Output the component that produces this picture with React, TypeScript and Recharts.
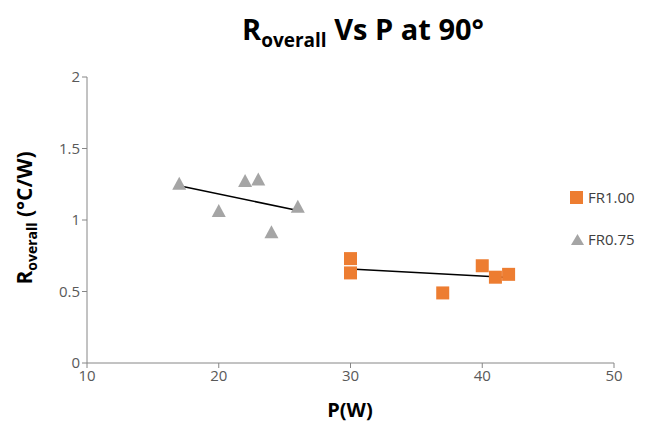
import { ScatterChart, Scatter, XAxis, YAxis, ReferenceLine } from "recharts";

const fr100 = [
  { p: 30, r: 0.73 },
  { p: 30, r: 0.63 },
  { p: 37, r: 0.49 },
  { p: 40, r: 0.68 },
  { p: 41, r: 0.6 },
  { p: 42, r: 0.62 },
];

const fr075 = [
  { p: 17, r: 1.25 },
  { p: 20, r: 1.06 },
  { p: 22, r: 1.27 },
  { p: 23, r: 1.28 },
  { p: 24, r: 0.91 },
  { p: 26, r: 1.09 },
];

// trend line ends
const trend100 = [
  { x: 30, y: 0.658 },
  { x: 42, y: 0.598 },
];
const trend075 = [
  { x: 17, y: 1.24 },
  { x: 26, y: 1.066 },
];

const xTicks = [10, 20, 30, 40, 50];
const yTicks = [0, 0.5, 1, 1.5, 2];

const ORANGE = "#ED7D31";
const GREY = "#A5A5A5";
const AXIS = "#868686";
const INK = "#595959";
const FONT = "'Open Sans', 'Noto Sans', sans-serif";

const SquareDot = (props: any) => {
  const { cx, cy } = props;
  return <rect x={cx - 6.5} y={cy - 6.5} width={13} height={13} fill={ORANGE} />;
};

const TriangleDot = (props: any) => {
  const { cx, cy } = props;
  return <path d={`M${cx},${cy - 7.5} L${cx + 7},${cy + 5.5} L${cx - 7},${cy + 5.5} Z`} fill={GREY} />;
};

export default function App() {
  return (
    <div style={{ position: "absolute", left: 0, top: 0, width: 649, height: 446, background: "#fff" }}>
      <ScatterChart width={649} height={446} margin={{ top: 77, right: 35, bottom: 53, left: 47 }}>
        <XAxis
          type="number"
          dataKey="p"
          domain={[10, 50]}
          ticks={xTicks}
          stroke={AXIS}
          tickSize={5}
          tick={{ fill: INK, fontSize: 15, fontFamily: FONT }}
        />
        <YAxis
          type="number"
          dataKey="r"
          domain={[0, 2]}
          ticks={yTicks}
          width={40}
          stroke={AXIS}
          tickSize={5}
          tick={{ fill: INK, fontSize: 15, fontFamily: FONT }}
        />
        <Scatter data={fr100} fill={ORANGE} shape={SquareDot} isAnimationActive={false} />
        <Scatter data={fr075} fill={GREY} shape={TriangleDot} isAnimationActive={false} />
        <ReferenceLine segment={trend100} stroke="#000" strokeWidth={1.5} ifOverflow="visible" />
        <ReferenceLine segment={trend075} stroke="#000" strokeWidth={1.5} ifOverflow="visible" />

        <text x={363} y={40} textAnchor="middle" fontFamily={FONT} fontWeight="bold" fontSize={29} fill="#000">
          R<tspan fontSize={19} dy={7}>overall</tspan>
          <tspan dy={-7}> Vs P at 90°</tspan>
        </text>
        <text
          x={0}
          y={0}
          transform="translate(32,218) rotate(-90)"
          textAnchor="middle"
          fontFamily={FONT}
          fontWeight="bold"
          fontSize={21}
          fill="#000"
        >
          R<tspan fontSize={14} dy={5}>overall</tspan>
          <tspan dy={-5}> (°C/W)</tspan>
        </text>
        <text x={350} y={417} textAnchor="middle" fontFamily={FONT} fontWeight="bold" fontSize={20} fill="#000">
          P(W)
        </text>

        <g fontFamily={FONT} fontSize={15} fill="#404040">
          <rect x={570} y={191} width={13} height={13} fill={ORANGE} />
          <text x={588} y={203}>FR1.00</text>
          <path d="M577.5,234 L584,245 L571,245 Z" fill={GREY} />
          <text x={588} y={245}>FR0.75</text>
        </g>
      </ScatterChart>
    </div>
  );
}
